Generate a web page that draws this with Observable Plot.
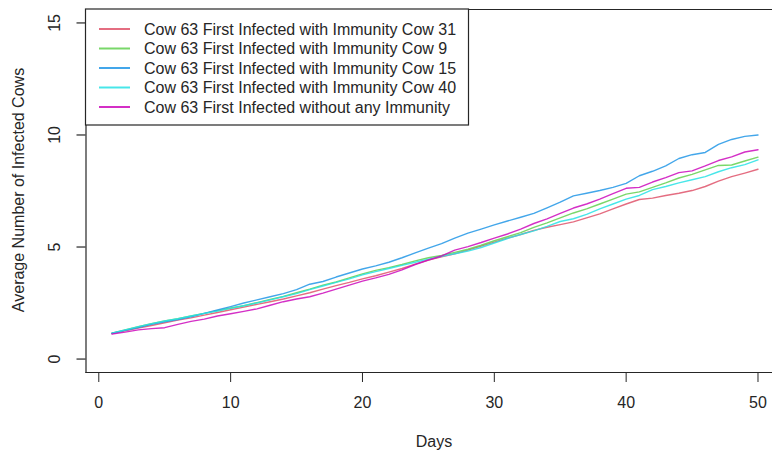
<!DOCTYPE html>
<html>
<head>
<meta charset="utf-8">
<script src="https://cdn.jsdelivr.net/npm/d3@7"></script>
<script src="https://cdn.jsdelivr.net/npm/@observablehq/plot@0.6"></script>
<style>
  html, body { margin: 0; padding: 0; background: #fff; }
  #chart svg { display: block; }
</style>
</head>
<body>
<div id="chart"></div>
<script>
// Simulation days
const days = d3.range(1, 51);

// Average number of infected cows per day for each scenario
const seriesNames = [
  "Cow 63 First Infected with Immunity Cow 31",
  "Cow 63 First Infected with Immunity Cow 9",
  "Cow 63 First Infected with Immunity Cow 15",
  "Cow 63 First Infected with Immunity Cow 40",
  "Cow 63 First Infected without any Immunity"
];
const seriesColors = ["#DF536B", "#61D04F", "#2297E6", "#28E2E5", "#CD0BBC"];

const immunityCow31 = [
  1.14, 1.26, 1.38, 1.50, 1.62, 1.74, 1.84, 1.96, 2.08, 2.20,
  2.32, 2.44, 2.56, 2.68, 2.82, 2.96, 3.12, 3.28, 3.42, 3.58,
  3.72, 3.88, 4.04, 4.24, 4.42, 4.56, 4.70, 4.86, 5.04, 5.22,
  5.40, 5.56, 5.74, 5.88, 6.00, 6.12, 6.30, 6.48, 6.70, 6.92,
  7.12, 7.18, 7.30, 7.40, 7.52, 7.70, 7.94, 8.14, 8.30, 8.47
];
const immunityCow9 = [
  1.15, 1.30, 1.44, 1.58, 1.70, 1.80, 1.92, 2.04, 2.16, 2.28,
  2.38, 2.52, 2.66, 2.80, 2.96, 3.12, 3.30, 3.44, 3.62, 3.80,
  3.96, 4.08, 4.22, 4.38, 4.52, 4.62, 4.76, 4.90, 5.08, 5.28,
  5.46, 5.64, 5.88, 6.08, 6.30, 6.52, 6.70, 6.92, 7.14, 7.36,
  7.46, 7.66, 7.86, 8.08, 8.24, 8.44, 8.64, 8.66, 8.84, 9.01
];
const immunityCow15 = [
  1.15, 1.28, 1.40, 1.55, 1.66, 1.76, 1.88, 2.04, 2.19, 2.34,
  2.50, 2.64, 2.78, 2.92, 3.10, 3.34, 3.46, 3.66, 3.84, 4.02,
  4.16, 4.32, 4.52, 4.74, 4.95, 5.15, 5.40, 5.62, 5.80, 5.99,
  6.16, 6.33, 6.50, 6.75, 7.00, 7.28, 7.40, 7.52, 7.66, 7.84,
  8.18, 8.38, 8.62, 8.95, 9.12, 9.22, 9.58, 9.80, 9.94, 10.00
];
const immunityCow40 = [
  1.15, 1.30, 1.45, 1.58, 1.70, 1.80, 1.92, 2.04, 2.14, 2.26,
  2.38, 2.50, 2.64, 2.78, 2.92, 3.10, 3.26, 3.42, 3.58, 3.76,
  3.90, 4.04, 4.18, 4.32, 4.46, 4.58, 4.70, 4.82, 4.98, 5.18,
  5.38, 5.56, 5.72, 5.92, 6.14, 6.26, 6.46, 6.70, 6.92, 7.14,
  7.30, 7.56, 7.70, 7.86, 8.00, 8.14, 8.36, 8.54, 8.68, 8.89
];
const noImmunity = [
  1.12, 1.20, 1.30, 1.36, 1.40, 1.55, 1.68, 1.78, 1.92, 2.02,
  2.13, 2.24, 2.40, 2.56, 2.68, 2.78, 2.94, 3.12, 3.30, 3.48,
  3.62, 3.78, 3.98, 4.22, 4.42, 4.60, 4.86, 5.02, 5.20, 5.40,
  5.58, 5.80, 6.05, 6.26, 6.50, 6.74, 6.92, 7.14, 7.38, 7.62,
  7.66, 7.90, 8.10, 8.32, 8.40, 8.62, 8.86, 9.02, 9.24, 9.34
];

const xTicks = [0, 10, 20, 30, 40, 50];
const yTicks = [0, 5, 10, 15];

const seriesValues = [immunityCow31, immunityCow9, immunityCow15, immunityCow40, noImmunity];

// Long table: one row per (series, day)
const rows = seriesNames.flatMap((name, i) =>
  days.map((day, j) => ({ series: name, day, value: seriesValues[i][j] }))
);

const font = "'Liberation Sans', Arial, Helvetica, sans-serif";
const ink = "#262626";

const chart = Plot.plot({
  width: 772,
  height: 453,
  marginLeft: 85.5,
  marginRight: 0,
  marginTop: 9,
  marginBottom: 81,
  style: { fontFamily: font, fontSize: "16px", color: ink, background: "#fff", overflow: "visible" },
  x: { domain: [-0.97, 51.1] },
  y: { domain: [-0.6, 15.6] },
  color: { domain: seriesNames, range: seriesColors },
  marks: [
    Plot.line(rows, {
      x: "day", y: "value", z: "series", stroke: "series",
      strokeWidth: 1.4, strokeOpacity: 0.85
    }),
    // plot box (its right side lies past the visible area)
    Plot.frame({ anchor: "left", stroke: ink, strokeWidth: 1.2 }),
    Plot.frame({ anchor: "bottom", stroke: ink, strokeWidth: 1.2 }),
    Plot.frame({ anchor: "top", stroke: ink, strokeWidth: 1.2 }),
    Plot.axisX({
      ticks: xTicks, tickSize: 10, tickPadding: 14, fontSize: 16,
      stroke: ink, fill: ink, label: null, tickFormat: d3.format("d")
    }),
    // y tick marks, then rotated y tick labels
    Plot.axisY({
      ticks: yTicks, tickSize: 9, stroke: ink, strokeWidth: 1.2,
      label: null, tickFormat: () => ""
    }),
    Plot.axisY({
      ticks: yTicks, tickSize: 0, tickPadding: 31, fontSize: 16,
      rotate: -90, textAnchor: "middle", fill: ink,
      label: null, tickFormat: d3.format("d")
    })
  ]
});

document.getElementById("chart").appendChild(chart);

// Axis titles and legend
const svg = d3.select(chart);

svg.append("text")
  .attr("x", 434).attr("y", 447)
  .attr("text-anchor", "middle")
  .attr("font-family", font).attr("font-size", 16).attr("fill", ink)
  .text("Days");

svg.append("text")
  .attr("transform", "translate(24,190) rotate(-90)")
  .attr("text-anchor", "middle")
  .attr("font-family", font).attr("font-size", 16).attr("fill", ink)
  .text("Average Number of Infected Cows");

const legend = svg.append("g");
legend.append("rect")
  .attr("x", 85.5).attr("y", 9).attr("width", 383).attr("height", 116)
  .attr("fill", "#fff").attr("stroke", ink).attr("stroke-width", 1.2);

seriesNames.forEach((name, i) => {
  const cy = 29 + i * 19.5;
  legend.append("line")
    .attr("x1", 99).attr("x2", 130).attr("y1", cy).attr("y2", cy)
    .attr("stroke", seriesColors[i]).attr("stroke-width", 2).attr("stroke-opacity", 0.85);
  legend.append("text")
    .attr("x", 144).attr("y", cy + 5.5)
    .attr("text-anchor", "start")
    .attr("font-family", font).attr("font-size", 16).attr("fill", ink)
    .text(name);
});
</script>
</body>
</html>
